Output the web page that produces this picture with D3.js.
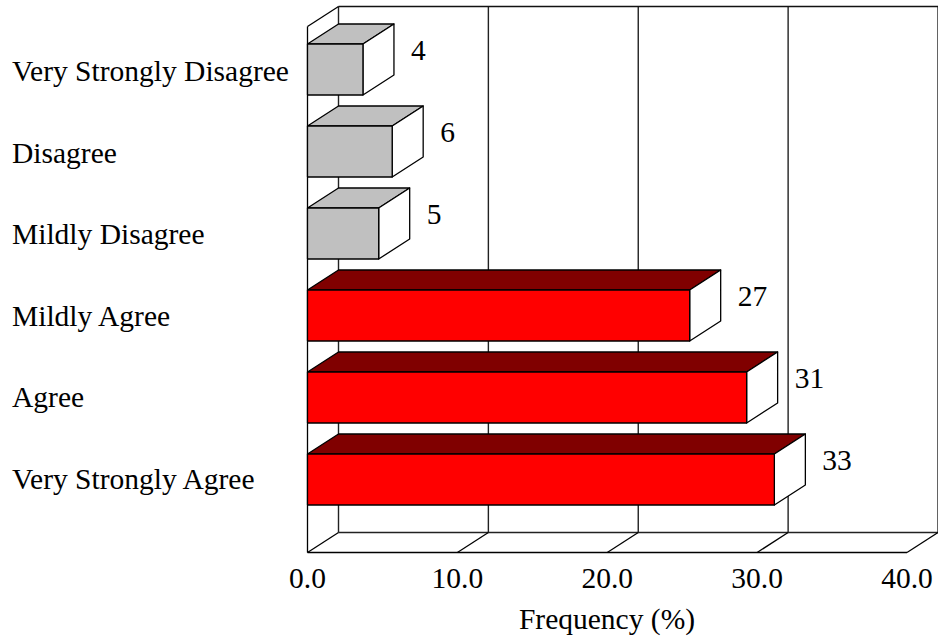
<!DOCTYPE html>
<html>
<head>
<meta charset="utf-8">
<script src="https://cdn.jsdelivr.net/npm/d3@7"></script>
<style>
html, body { margin: 0; padding: 0; background: #fff; }
svg { display: block; }
text { font-family: "Liberation Serif", serif; fill: #000; font-size: 29.5px; }
</style>
</head>
<body>
<svg width="938" height="638"></svg>
<script>
var categories = ["Very Strongly Disagree", "Disagree", "Mildly Disagree", "Mildly Agree", "Agree", "Very Strongly Agree"];
var frequency = [3.7, 5.65, 4.75, 25.5, 29.3, 31.15];
var counts = [4, 6, 5, 27, 31, 33];
var group = ["disagree", "disagree", "disagree", "agree", "agree", "agree"];
var xTicks = [0, 10, 20, 30, 40];

var depthX = 31, depthY = -20;
var frontColors = { disagree: "#c0c0c0", agree: "#ff0000" };
var topColors = { disagree: "#c0c0c0", agree: "#800000" };

var svg = d3.select("svg");

var x = d3.scaleLinear().domain([0, 40]).range([307.5, 907]);
var y = d3.scalePoint().domain(categories).range([69.5, 479.5]);
// the category labels sit on a slightly tighter step than the bars
var labelY = d3.scalePoint().domain(categories).range([81, 489]);
var barHeight = 51;

var line = d3.line();

function outline(points, fill, cls) {
    svg.append("path")
        .attr("class", cls)
        .attr("d", line(points) + "Z")
        .attr("fill", fill)
        .attr("stroke", "#000")
        .attr("stroke-width", 1.3)
        .attr("stroke-linejoin", "round");
}

var floorY = 552.5, topY = 26.5;

// back wall gridlines
var backGrid = svg.append("g");
xTicks.forEach(function (d) {
    backGrid.append("line")
        .attr("x1", x(d) + depthX).attr("x2", x(d) + depthX)
        .attr("y1", topY + depthY).attr("y2", floorY + depthY)
        .attr("stroke", "#222").attr("stroke-width", 1.4);
});
backGrid.append("line")
    .attr("x1", x(0) + depthX).attr("x2", x(40) + depthX)
    .attr("y1", topY + depthY).attr("y2", topY + depthY)
    .attr("stroke", "#111").attr("stroke-width", 1.4);
backGrid.append("line")
    .attr("x1", x(0) + depthX).attr("x2", x(40) + depthX)
    .attr("y1", floorY + depthY).attr("y2", floorY + depthY)
    .attr("stroke", "#222").attr("stroke-width", 1.4);

// floor and left wall
xTicks.forEach(function (d) {
    svg.append("line")
        .attr("x1", x(d)).attr("x2", x(d) + depthX)
        .attr("y1", floorY).attr("y2", floorY + depthY)
        .attr("stroke", "#000").attr("stroke-width", 1.3);
});
svg.append("line")
    .attr("x1", x(0)).attr("x2", x(40))
    .attr("y1", floorY).attr("y2", floorY)
    .attr("stroke", "#000").attr("stroke-width", 1.4);
svg.append("line")
    .attr("x1", x(0)).attr("x2", x(0))
    .attr("y1", topY).attr("y2", floorY)
    .attr("stroke", "#000").attr("stroke-width", 1.3);
svg.append("line")
    .attr("x1", x(0)).attr("x2", x(0) + depthX)
    .attr("y1", topY).attr("y2", topY + depthY)
    .attr("stroke", "#000").attr("stroke-width", 1.3);

// bars
categories.forEach(function (c, i) {
    var x0 = x(0), x1 = x(frequency[i]);
    var y0 = y(c) - barHeight / 2, y1 = y(c) + barHeight / 2;
    outline([[x0, y0], [x0 + depthX, y0 + depthY], [x1 + depthX, y0 + depthY], [x1, y0]], topColors[group[i]], "bar-top");
    outline([[x1, y0], [x1 + depthX, y0 + depthY], [x1 + depthX, y1 + depthY], [x1, y1]], "#fff", "bar-side");
    outline([[x0, y0], [x1, y0], [x1, y1], [x0, y1]], frontColors[group[i]], "bar-front");

    svg.append("text")
        .attr("x", x1 + depthX + 17)
        .attr("y", y(c) - 9.5)
        .text(counts[i]);

    svg.append("text")
        .attr("x", 12)
        .attr("y", labelY(c))
        .text(c);
});

// x tick labels
xTicks.forEach(function (d) {
    svg.append("text")
        .attr("x", x(d))
        .attr("y", 588)
        .attr("text-anchor", "middle")
        .text(d3.format(".1f")(d));
});

svg.append("text")
    .attr("x", 607)
    .attr("y", 629)
    .attr("text-anchor", "middle")
    .text("Frequency (%)");
</script>
</body>
</html>
